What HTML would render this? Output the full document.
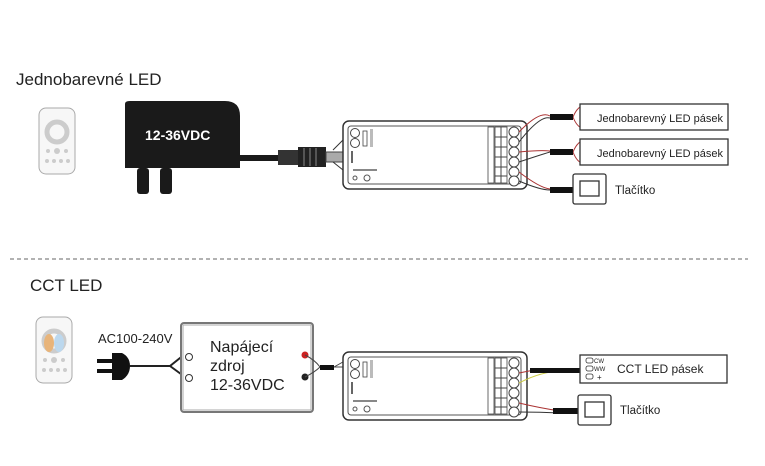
<!DOCTYPE html>
<html><head><meta charset="utf-8"><style>
html,body{margin:0;padding:0;background:#fff;width:765px;height:466px;overflow:hidden}
svg{display:block}
text{font-family:"Liberation Sans",sans-serif}
</style></head><body>
<svg width="765" height="466" viewBox="0 0 765 466" xmlns="http://www.w3.org/2000/svg">
<defs>
<g id="ctrl">
 <rect x="0" y="0" width="184" height="68" rx="6" fill="#fff" stroke="#333" stroke-width="1.5"/>
 <rect x="5" y="5" width="173" height="58" rx="3" fill="none" stroke="#555" stroke-width="1"/>
 <circle cx="12" cy="12" r="4.5" fill="none" stroke="#444"/>
 <circle cx="12" cy="22" r="4.5" fill="none" stroke="#444"/>
 <rect x="20" y="10" width="4" height="15" fill="none" stroke="#444" stroke-width="0.8"/>
 <rect x="27" y="8" width="3" height="18" fill="#bbb"/>
 <rect x="8" y="30" width="2" height="12" fill="#666"/>
 <rect x="10" y="48" width="24" height="2" fill="#888"/>
 <circle cx="12" cy="57" r="2" fill="none" stroke="#555"/>
 <circle cx="24" cy="57" r="3" fill="none" stroke="#555"/>
 <rect x="145" y="6" width="6" height="56" fill="none" stroke="#444" stroke-width="0.8"/>
 <rect x="152" y="6" width="12" height="56" fill="none" stroke="#444" stroke-width="0.8"/>
 <line x1="152" y1="16" x2="164" y2="16" stroke="#444"/><line x1="152" y1="26" x2="164" y2="26" stroke="#444"/>
 <line x1="152" y1="36" x2="164" y2="36" stroke="#444"/><line x1="152" y1="46" x2="164" y2="46" stroke="#444"/>
 <line x1="152" y1="55" x2="164" y2="55" stroke="#444"/><line x1="158" y1="6" x2="158" y2="62" stroke="#444"/>
 <g fill="#fff" stroke="#444"><circle cx="171" cy="11" r="5"/><circle cx="171" cy="21" r="5"/><circle cx="171" cy="31" r="5"/><circle cx="171" cy="41" r="5"/><circle cx="171" cy="51" r="5"/><circle cx="171" cy="60" r="5"/></g>
</g>
<g id="remote">
 <rect x="0" y="0" width="36" height="66" rx="7" fill="#f7f7f7" stroke="#aaa"/>
 <circle cx="18" cy="24" r="10" fill="none" stroke="#ccc" stroke-width="5"/>
 <g fill="#ccc"><circle cx="9" cy="43" r="2"/><circle cx="18" cy="43" r="3"/><circle cx="27" cy="43" r="2"/><circle cx="8" cy="53" r="2"/><circle cx="15" cy="53" r="2"/><circle cx="22" cy="53" r="2"/><circle cx="29" cy="53" r="2"/></g>
</g>
<g id="sw"><rect x="0" y="0" width="33" height="30" rx="2" fill="#fff" stroke="#333" stroke-width="1.3"/><rect x="7" y="7" width="19" height="15" fill="#fff" stroke="#333" stroke-width="1.3"/></g>
</defs>

<text x="16" y="85" font-size="17" fill="#222">Jednobarevné LED</text>
<use href="#remote" x="39" y="108"/>
<path d="M125 168 V104 Q125 101 130 101 H225 Q240 101 240 116 V168 Z" fill="#1a1a1a"/>
<rect x="137" y="168" width="12" height="26" rx="3" fill="#1a1a1a"/>
<rect x="160" y="168" width="12" height="26" rx="3" fill="#1a1a1a"/>
<text x="145" y="140" font-size="14" font-weight="bold" fill="#fff">12-36VDC</text>
<rect x="240" y="155" width="40" height="6" fill="#1a1a1a"/>
<rect x="278" y="150" width="20" height="15" fill="#333"/>
<rect x="298" y="147" width="28" height="20" fill="#222"/>
<g stroke="#888"><line x1="304" y1="148" x2="304" y2="166"/><line x1="310" y1="148" x2="310" y2="166"/><line x1="316" y1="148" x2="316" y2="166"/></g>
<rect x="326" y="152" width="18" height="10" fill="#aaa" stroke="#444"/>
<path d="M343 140 L333 150 M343 170 L333 162" stroke="#333" fill="none"/>
<use href="#ctrl" x="343" y="121"/>
<g fill="none" stroke-width="1">
<path d="M519 132 Q540 110 550 116" stroke="#a33"/><path d="M519 142 Q540 115 550 118" stroke="#333"/>
<path d="M519 152 Q540 150 550 151" stroke="#a33"/><path d="M519 162 Q540 155 550 152" stroke="#333"/>
<path d="M519 172 Q540 188 550 189" stroke="#a33"/><path d="M519 181 Q540 190 550 190" stroke="#333"/>
<path d="M573 117 Q578 105 586 105 M573 117 Q578 130 586 128" stroke="#a33"/>
<path d="M573 152 Q578 140 586 140 M573 152 Q578 165 586 163" stroke="#a33"/>
</g>
<rect x="550" y="114" width="23" height="6" fill="#111"/>
<rect x="550" y="149" width="23" height="6" fill="#111"/>
<rect x="550" y="187" width="23" height="6" fill="#111"/>
<rect x="580" y="104" width="148" height="26" fill="#fff" stroke="#333" stroke-width="1.3"/>
<rect x="580" y="139" width="148" height="26" fill="#fff" stroke="#333" stroke-width="1.3"/>
<text x="597" y="122" font-size="11" fill="#222">Jednobarevný LED pásek</text>
<text x="597" y="157" font-size="11" fill="#222">Jednobarevný LED pásek</text>
<use href="#sw" x="573" y="174"/>
<text x="615" y="194" font-size="11.5" fill="#222">Tlačítko</text>

<line x1="10" y1="259" x2="748" y2="259" stroke="#666" stroke-dasharray="4,3"/>

<text x="30" y="291" font-size="17" fill="#222">CCT LED</text>
<use href="#remote" x="36" y="317"/>
<ellipse cx="49" cy="343" rx="5" ry="9" fill="#e8b47a"/><ellipse cx="59" cy="343" rx="5" ry="9" fill="#bcd8ee"/>
<text x="98" y="343" font-size="13" fill="#222">AC100-240V</text>
<rect x="97" y="359" width="16" height="4" fill="#111"/><rect x="97" y="369" width="16" height="4" fill="#111"/>
<path d="M112 353 H122 Q130 357 130 366 Q130 375 122 380 H112 Z" fill="#111"/>
<path d="M130 366 H170 L185 354 M170 366 L185 377" stroke="#222" stroke-width="2" fill="none"/>
<rect x="181" y="323" width="132" height="89" rx="3" fill="#fff" stroke="#777" stroke-width="2"/>
<rect x="183" y="325" width="128" height="85" fill="none" stroke="#aaa"/>
<circle cx="189" cy="357" r="3.5" fill="#fff" stroke="#333"/><circle cx="189" cy="378" r="3.5" fill="#fff" stroke="#333"/>
<text x="210" y="352" font-size="16" fill="#222">Napájecí</text>
<text x="210" y="371" font-size="16" fill="#222">zdroj</text>
<text x="210" y="390" font-size="16" fill="#222">12-36VDC</text>
<circle cx="305" cy="355" r="3.5" fill="#c22"/><circle cx="305" cy="377" r="3.5" fill="#222"/>
<path d="M305 355 Q315 360 320 367 M305 377 Q315 372 320 367" stroke="#444" fill="none"/>
<rect x="320" y="365" width="14" height="5" fill="#111"/>
<path d="M334 367 L350 358 M334 367 L350 367" stroke="#444" fill="none"/>
<use href="#ctrl" x="343" y="352"/>
<g fill="none" stroke-width="1">
<path d="M519 373 Q540 368 560 369" stroke="#a33"/><path d="M519 383 Q540 372 560 371" stroke="#cc4"/>
<path d="M519 403 Q540 408 560 411" stroke="#a33"/><path d="M519 412 Q540 412 560 413" stroke="#333"/>
<path d="M590 370 Q595 360 600 361" stroke="#cc4"/><path d="M590 370 Q595 368 600 369" stroke="#cc4"/><path d="M590 370 Q595 378 600 377" stroke="#a33"/>
</g>
<rect x="530" y="368" width="60" height="5" fill="#111"/>
<rect x="553" y="408" width="25" height="6" fill="#111"/>
<rect x="580" y="355" width="147" height="28" fill="#fff" stroke="#333" stroke-width="1.3"/>
<g fill="#fff" stroke="#333" stroke-width="0.8"><rect x="586" y="358" width="7" height="5" rx="2"/><rect x="586" y="366" width="7" height="5" rx="2"/><rect x="586" y="374" width="7" height="5" rx="2"/></g>
<text x="594" y="363" font-size="6" fill="#222">CW</text><text x="594" y="371" font-size="6" fill="#222">WW</text><text x="597" y="380" font-size="8" fill="#222">+</text>
<text x="617" y="373" font-size="12" fill="#222">CCT LED pásek</text>
<use href="#sw" x="578" y="395"/>
<text x="620" y="414" font-size="11.5" fill="#222">Tlačítko</text>
</svg>
</body></html>
